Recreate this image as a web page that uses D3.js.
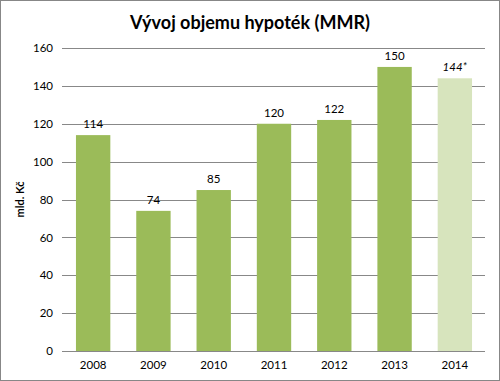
<!DOCTYPE html>
<html>
<head>
<meta charset="utf-8">
<script src="https://cdn.jsdelivr.net/npm/d3@7"></script>
<style>
  body { margin: 0; background: #fff; }
  svg { display: block; font-family: Lato, "Open Sans", sans-serif; }
</style>
</head>
<body>
<div id="chart"></div>
<script>
const years = ['2008', '2009', '2010', '2011', '2012', '2013', '2014'];
const volumes = [114, 74, 85, 120, 122, 150, 144];
const barLabels = ['114', '74', '85', '120', '122', '150', '144*'];
const estimated = [false, false, false, false, false, false, true];
const yTicks = [0, 20, 40, 60, 80, 100, 120, 140, 160];

const width = 500, height = 381;
const margin = { top: 48, right: 15, bottom: 30, left: 63 };

const svg = d3.select('#chart')
  .append('svg')
    .attr('width', width)
    .attr('height', height);

// outer frame
svg.append('rect')
  .attr('x', 0.5).attr('y', 0.5)
  .attr('width', width - 1).attr('height', height - 1)
  .attr('fill', '#fff')
  .attr('stroke', '#878787');

const x = d3.scaleBand()
  .domain(years)
  .range([margin.left, width - margin.right])
  .paddingInner(0.43)
  .paddingOuter(0.215);

const y = d3.scaleLinear()
  .domain([0, 160])
  .range([height - margin.bottom, margin.top]);

// gridlines
svg.append('g')
  .selectAll('line')
  .data(yTicks)
  .join('line')
    .attr('x1', margin.left - 1)
    .attr('x2', width - margin.right)
    .attr('y1', d => Math.round(y(d)) + 0.5)
    .attr('y2', d => Math.round(y(d)) + 0.5)
    .attr('stroke', '#888')
    .attr('stroke-width', 1);

// y axis labels
const yAxis = svg.append('g')
  .attr('transform', `translate(${margin.left},0)`)
  .call(d3.axisLeft(y).tickValues(yTicks).tickSize(0).tickPadding(10));
yAxis.select('.domain').remove();
yAxis.selectAll('text')
  .attr('font-size', 11.5)
  .attr('fill', '#000')
  .style('font-family', 'Lato, "Open Sans", sans-serif');

// bars
svg.append('g')
  .selectAll('rect')
  .data(years)
  .join('rect')
    .attr('x', d => x(d))
    .attr('width', x.bandwidth())
    .attr('y', (d, i) => y(volumes[i]))
    .attr('height', (d, i) => y(0) - y(volumes[i]))
    .attr('fill', (d, i) => estimated[i] ? '#d7e4bd' : '#9bbb59');

// bar value labels
svg.append('g')
  .selectAll('text')
  .data(years)
  .join('text')
    .attr('x', d => x(d) + x.bandwidth() / 2)
    .attr('y', (d, i) => y(volumes[i]) - 7)
    .attr('text-anchor', 'middle')
    .attr('font-size', 11.5)
    .attr('font-style', (d, i) => estimated[i] ? 'italic' : 'normal')
    .text((d, i) => barLabels[i]);

// x axis labels
const xAxis = svg.append('g')
  .attr('transform', `translate(0,${y(0)})`)
  .call(d3.axisBottom(x).tickSize(0).tickPadding(10));
xAxis.select('.domain').remove();
xAxis.selectAll('text')
  .attr('font-size', 11.5)
  .attr('fill', '#000')
  .style('font-family', 'Lato, "Open Sans", sans-serif');

// title
svg.append('text')
  .attr('x', 250)
  .attr('y', 29)
  .attr('text-anchor', 'middle')
  .attr('font-size', 18)
  .attr('font-weight', 'bold')
  .text('Vývoj objemu hypoték (MMR)');

// y axis title
svg.append('text')
  .attr('transform', `translate(24,${(y(0) + y(160)) / 2}) rotate(-90)`)
  .attr('text-anchor', 'middle')
  .attr('font-size', 11)
  .attr('font-weight', 'bold')
  .text('mld. Kč');
</script>
</body>
</html>
